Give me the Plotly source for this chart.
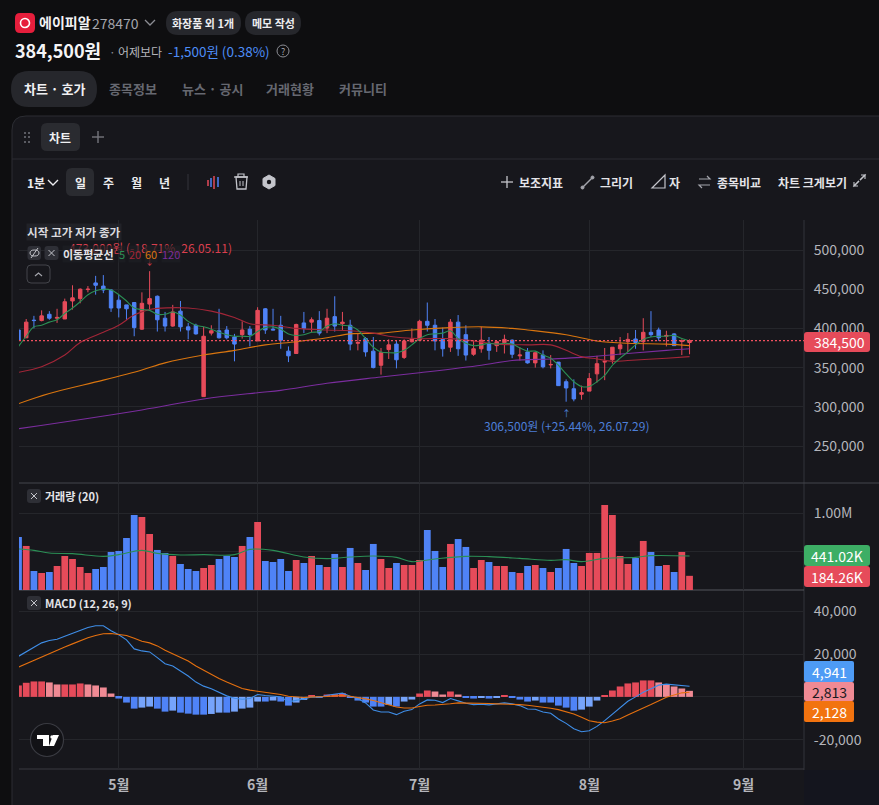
import plotly.graph_objects as go

W = 879
H = 805
FONT = "Noto Sans CJK KR"
RED = "#E64B5A"
BLUE = "#4F83F7"

# prices are read in thousand won
open_k = [398,388,410.5,410,418,413,412,435,438,449.5,
          458,454,449,436,430,433,399,431,441,413,
          403,422,402,404,313,394,397,398,389,392,
          399,384,425,399,404,371,368,407,408,410,
          400.5,415,406,404,381,387,371,353,373,380,
          363,383,385,409,404,386,376,408,392,367,
          374,381,378,382,385,365,370,356,366,353.5,
          357,332,323,316,320,342,357,360,374,383,
          386.5,383,395,398,390,393,383.5,382]
close_k = [385,408,410,416,413,414,434,439,450,450,
           455,449,426,426,425,401,432,438,411,403,
           421,402,398,393,390,397,388,388,380,398,
           392,423,398,398,385,365,405,400,411,394,
           413,403,408,380,382,370,350,369,379,360,
           384,386.5,409,404,384,374,408,374,366,374,
           385,372,383,386,367,366,356,369,351,354,
           327,324,310,318,336,355,358,376,379,386,
           382,395,392,388,391,378,384,384.5]
high_k = [398,412,416,423,422,425,438,455,451,454,
          467,468,450,443,430,433,446,473,442,421,
          430,435,407,406,402,404,425,403,393,409,
          403,427,426,425,416,377,406,421,414,422,
          425,441,421,411,394,389,389,375,386,385,
          386,400,411,433,412,401,412,417,404,385,
          402,389,384,392,386,376,375,369,372,366,
          357,335,335,327,343,365,375,376,389,394,
          398,413,422,401,397,394,386,386]
low_k = [385,388,400,409,411,407,412,424,432,446,
         443,445,421,414,411,390,398,423,396,396,
         402,396,386,392,313,391,387,386,358,387,
         377,384,393,398,374,357,368,394,395,391,
         394,396,398,372,372,364,349,341,361,349,
         361,382,385,396,372,364,370,365,359,365,
         369,360,370,368,362,359,355,350,349,349,
         327,306.5,307,309,320,331,334,355,366,370,
         374,372,389,384,377,378,366,367]

ma5_k = [377,390,402,404,408,411,419,426,434,443,
         448,450,449,443,435,426,424,423,418,418,
         421,417,409,404,402,399,395,392,390,390,
         390,396,401,402,399,393,391,392,395,396,
         403,406,404,403,398,387,376,370,369,369,
         372,379,387,392,393,394,397,387,381,378,
         379,381,380,381,380,375,371,371,366,362,
         353,342,332,326,326,332,340,353,362,370,
         379,386,389,390,390,391,387,384]
ma20_x = [0,3,6,8,11,13,15,17,18,22,25,28,30,33,36,40,43,46,48,52,56,59,62,66,69,71,73,75,77,79,84,87]
ma20_k = [344,351,366,382,395,404,417,424,425.5,426,422,414,406,404,400,398,397,394,390,387,387,384,380,379,379,372,364,361,358,359,362,364]
ma60_x = [0,4,11,16,19,24,28,32,36,40,43,47,51,56,60,64,66,71,75,79,84,87]
ma60_k = [304,317,334,347,356,366,372,379,383,388,393,394,398,401,402,400,398,392,384,381,380,378]
ma120_x = [0,16,24,31,34,40,47,52,60,64,69,73,79,84,87]
ma120_k = [272,296,310,318,321,330,338,343.5,353,359,361,363,368,372,374]

volume_k = [688,572,247,221,234,312,442,403,299,221,
            273,299,494,507,675,974,948,727,520,481,
            442,338,273,247,286,325,403,442,429,572,
            688,883,377,364,403,247,390,351,442,325,
            299,468,299,546,351,260,598,403,286,351,
            325,325,390,779,507,299,598,662,559,286,
            390,364,312,312,234,221,312,325,286,234,
            286,533,351,312,481,481,1104,974,442,338,
            416,637,494,312,325,234,494,184]
vol_ma_x = [0,2,4,7,11,13,16,18,21,24,28,30,33,37,40,43,46,49,51,54,58,61,65,69,71,73,76,80,82,87]
vol_ma_k = [533,515,480,472,437,459,515,476,455,459,459,528,515,429,407,429,442,424,368,403,437,433,411,385,394,368,411,424,446,441]

macd_hist = [5321,6573,7199,7199,6730,5790,5790,5790,6260,5790,
             5321,4382,1565,-782,-2660,-5478,-5008,-4539,-5478,-6886,
             -6417,-7356,-7825,-8295,-8295,-7982,-7356,-7356,-6886,-5478,
             -5008,-2191,-2191,-1722,-2191,-4069,-2660,-1409,626,-470,
             1096,1252,1722,-470,-1722,-2660,-4539,-4539,-3756,-4539,
             -2191,-1252,1565,2974,2504,1096,2504,1096,-313,-782,
             -313,-782,-313,626,-313,-1252,-2191,-1722,-2660,-2660,
             -4069,-5008,-6417,-5947,-4539,-1722,626,2974,4851,6260,
             6730,7669,7669,6730,5790,4851,3912,2813]
macd_line = [18937,21128,23319,25197,26292,26918,28327,29579,31144,32396,
             33178,33178,30831,28953,26605,22380,21441,20971,18311,15494,
             14398,12051,9703,6886,5008,3756,2191,470,-626,-1096,
             -783,1096,626,313,0,-2348,-1722,-939,0,-313,
             783,1096,1722,313,-783,-2817,-6104,-7043,-7043,-8295,
             -6730,-5947,-3287,-1409,-1565,-2660,-782,-1878,-2974,-3600,
             -3443,-3756,-3130,-2817,-3287,-4069,-5634,-5791,-7043,-7669,
             -10329,-12364,-14868,-16276,-15807,-13772,-11112,-7982,-5008,-2035,
             0,2191,3756,5478,5947,5634,5321,4941]
macd_signal = [13929,15494,17059,18780,20502,22067,23319,24727,26292,27544,
               28640,29422,29579,29266,28640,27388,25979,25197,23788,21754,
               20189,18311,16746,14398,12364,10486,8608,6886,5321,3913,
               3130,2661,2191,1722,1096,313,0,-313,0,0,
               157,470,626,313,-157,-939,-1722,-2661,-3600,-4695,
               -5165,-5165,-4500,-3913,-3800,-3600,-3200,-2817,-2817,-2817,
               -3000,-3130,-3287,-3287,-3287,-3600,-3913,-4300,-4695,-5300,
               -5947,-6900,-7982,-9500,-11112,-11800,-12051,-11300,-10173,-8500,
               -6730,-5200,-3600,-1900,-157,900,1878,2128]

price_ticks = [250000, 300000, 350000, 400000, 450000, 500000]
month_ticks = [13, 31, 52, 74, 94]
month_labels = ["5월", "6월", "7월", "8월", "9월"]

days = list(range(len(close_k)))

bar_colors = [RED if c >= o else BLUE for o, c in zip(open_k, close_k)]
hist_colors = []
for i, v in enumerate(macd_hist):
    prev = macd_hist[i - 1] if i else v
    if v >= 0:
        hist_colors.append("#E64B5A" if v >= prev else "#F08A94")
    else:
        hist_colors.append("#4F83F7" if v <= prev else "#76A4FB")


def px(x):
    return x / W


def py(y):
    return 1 - y / H


shapes = []
annots = []


def round_box(x0, y0, x1, y1, r, fill, line=None, layer="above"):
    a, b, c, d = px(x0), py(y0), px(x1), py(y1)
    rx, ry = r / W, r / H
    path = (f"M {a+rx} {b} L {c-rx} {b} Q {c} {b} {c} {b-ry} L {c} {d+ry} Q {c} {d} {c-rx} {d} "
            f"L {a+rx} {d} Q {a} {d} {a} {d+ry} L {a} {b-ry} Q {a} {b} {a+rx} {b} Z")
    shapes.append(dict(type="path", xref="paper", yref="paper", path=path, fillcolor=fill,
                       line=dict(color=line or "rgba(0,0,0,0)", width=1), layer=layer))


def seg(x0, y0, x1, y1, color, width=1, layer="above"):
    shapes.append(dict(type="line", xref="paper", yref="paper", x0=px(x0), y0=py(y0), x1=px(x1), y1=py(y1),
                       line=dict(color=color, width=width), layer=layer))


def poly(points, color, width=1.3, fill=None, close=False):
    d = "M " + " L ".join(f"{px(x)} {py(y)}" for x, y in points)
    if close:
        d += " Z"
    shapes.append(dict(type="path", xref="paper", yref="paper", path=d, fillcolor=fill or "rgba(0,0,0,0)",
                       line=dict(color=color, width=width)))


def ring(cx, cy, r, color, width=1, fill="rgba(0,0,0,0)"):
    shapes.append(dict(type="circle", xref="paper", yref="paper", x0=px(cx - r), x1=px(cx + r),
                       y0=py(cy + r), y1=py(cy - r), fillcolor=fill, line=dict(color=color, width=width)))


def label(x, y, text, size=12, color="#FFFFFF", bold=False, anchor="left", bg=None, family=FONT):
    annots.append(dict(xref="paper", yref="paper", x=px(x), y=py(y), text=text, showarrow=False,
                       xanchor=anchor, yanchor="middle", borderpad=0, bgcolor=bg,
                       font=dict(family=family, size=size, color=color, weight=700 if bold else 400)))


def close_btn(x, y):
    round_box(x - 7, y - 7, x + 7, y + 7, 3, "#2E2F36")
    seg(x - 3, y - 3, x + 3, y + 3, "#C4C5CB", 1)
    seg(x - 3, y + 3, x + 3, y - 3, "#C4C5CB", 1)


# page and panel
round_box(12, 116, 900, 840, 14, "#17171C", "#2C2D33", layer="below")
shapes.append(dict(type="rect", xref="paper", yref="paper", x0=px(804), x1=1, y0=0, y1=py(770),
                   fillcolor="#14151E", line=dict(width=0), layer="below"))
seg(12, 159, 879, 159, "#2C2D33", 1, "below")
seg(804, 220, 804, 770, "#33343A", 1, "below")
seg(19, 483, 879, 483, "#45464C", 1, "below")
seg(19, 590, 804, 590, "#55565C", 1, "below")
seg(19, 769, 804, 769, "#3A3B41", 1, "below")

# header
round_box(15, 13, 35, 33, 5, "#E61E3C")
ring(25, 23, 4.5, "#FFFFFF", 1.6)
label(38, 22, "에이피알", 14, "#F2F2F4", True)
label(91, 23, "278470", 14, "#A4A5AC")
poly([(145, 20), (150, 25), (155, 20)], "#8C8D94")
round_box(166, 11, 241, 35, 12, "#26272C")
label(203, 23, "화장품 외 1개", 11, "#ECECEF", True, "center")
round_box(245, 11, 301, 35, 12, "#26272C")
label(273, 23, "메모 작성", 11, "#ECECEF", True, "center")
label(14, 50, "384,500원", 18, "#F4F4F6", True)
label(108, 51, "·", 12, "#8C8D94")
label(117, 51, "어제보다", 12, "#B4B5BB")
label(167, 51, "-1,500원 (0.38%)", 13.5, "#4D8DF7")
ring(283, 51, 6, "#8C8D94", 1)
label(283, 51, "?", 9, "#A4A5AC", False, "center")

# tabs
round_box(11, 71, 97, 107, 18, "#26272C")
label(54, 89, "차트 · 호가", 13, "#F0F0F2", True, "center")
label(133, 89, "종목정보", 13, "#666870", True, "center")
label(212, 89, "뉴스 · 공시", 13, "#666870", True, "center")
label(290, 89, "거래현황", 13, "#666870", True, "center")
label(363, 89, "커뮤니티", 13, "#666870", True, "center")

# chart tab row
for dx in (24, 28):
    for dy in (133, 137, 142):
        shapes.append(dict(type="rect", xref="paper", yref="paper", x0=px(dx), x1=px(dx + 2),
                           y0=py(dy + 1), y1=py(dy - 1), fillcolor="#5A5B62", line=dict(width=0)))
round_box(41, 123, 80, 151, 6, "#2A2B30")
label(60, 137, "차트", 12, "#F0F0F2", True, "center")
seg(92, 137, 104, 137, "#74757C", 1.4)
seg(98, 131, 98, 143, "#74757C", 1.4)

# toolbar
label(26, 182, "1분", 12, "#ECECEF", True)
poly([(48, 180), (53, 185), (58, 180)], "#ECECEF", 1.4)
round_box(66, 168, 94, 196, 6, "#2A2B30")
label(80, 182, "일", 12, "#F0F0F2", True, "center")
label(108, 182, "주", 12, "#ECECEF", True, "center")
label(136, 182, "월", 12, "#ECECEF", True, "center")
label(164, 182, "년", 12, "#ECECEF", True, "center")
seg(188, 174, 188, 190, "#34353B", 1)
seg(208, 180, 208, 186, RED, 1.5)
seg(211, 178, 211, 187, BLUE, 1.5)
seg(214, 176, 214, 189, RED, 1.5)
seg(218, 177, 218, 187, BLUE, 1.5)
poly([(236, 177), (237, 189), (246, 189), (247, 177)], "#C4C5CB", 1.3, close=True)
seg(234, 177, 248, 177, "#C4C5CB", 1.3)
poly([(238, 177), (238, 174), (244, 174), (244, 177)], "#C4C5CB", 1.2)
seg(240, 181, 240, 186, "#C4C5CB", 1)
seg(243, 181, 243, 186, "#C4C5CB", 1)
# settings icon
poly([(269, 175), (275, 178.5), (275, 185.5), (269, 189), (263, 185.5), (263, 178.5)],
     "#C4C5CB", 1, "#C4C5CB", True)
ring(269, 182, 2.2, "#17171C", 0, "#17171C")

seg(501, 182, 513, 182, "#C4C5CB", 1.3)
seg(507, 176, 507, 188, "#C4C5CB", 1.3)
label(518, 182, "보조지표", 12, "#E4E4E8", True)
seg(582, 188, 593, 177, "#A4A5AC", 1.4)
ring(582.5, 187.5, 1.5, "#A4A5AC", 1, "#A4A5AC")
ring(592.5, 177.5, 1.5, "#A4A5AC", 1, "#A4A5AC")
label(599, 182, "그리기", 12, "#E4E4E8", True)
poly([(652, 188), (665, 188), (665, 175)], "#C4C5CB", 1.2, close=True)
label(668, 182, "자", 12, "#E4E4E8", True)
poly([(699, 179), (710, 179), (707, 176)], "#A4A5AC", 1.2)
poly([(710, 185), (699, 185), (702, 188)], "#A4A5AC", 1.2)
label(716, 182, "종목비교", 12, "#E4E4E8", True)
label(777, 182, "차트 크게보기", 12, "#E4E4E8", True)
poly([(860, 180), (865, 175), (861, 175)], "#C4C5CB", 1.1)
poly([(860, 180), (865, 175), (865, 179)], "#C4C5CB", 1.1)
poly([(859, 181), (854, 186), (858, 186)], "#C4C5CB", 1.1)
poly([(859, 181), (854, 186), (854, 182)], "#C4C5CB", 1.1)

# legend rows over the price pane
label(68, 248, "473,000원 (-18.71%, 26.05.11)", 12, "#D93F4E")
label(149, 261, "↓", 9, "#D93F4E", False, "center")
label(26, 232, "시작 고가 저가 종가", 11.6, "#DADADF", True, bg="rgba(38,39,44,0.75)")
# hide-row button with a crossed eye
round_box(27.5, 246, 41, 260, 3, "#2E2F36")
shapes.append(dict(type="circle", xref="paper", yref="paper", x0=px(30), x1=px(39), y0=py(256), y1=py(250),
                   line=dict(color="#C4C5CB", width=1)))
seg(31, 258, 38, 248, "#C4C5CB", 1)
close_btn(51.5, 253)
row_bg = "rgba(30,31,36,0.7)"
label(62, 254, "이동평균선", 11, "#E4E4E8", True, bg=row_bg)
label(118, 254, "5", 11, "#2B8F55", bg=row_bg)
label(128, 254, "20", 11, "#A32638", bg=row_bg)
label(144, 254, "60", 11, "#D9750F", bg=row_bg)
label(161, 254, "120", 11, "#7B2D9E", bg=row_bg)
round_box(27, 265, 50, 283, 4, "#17171C", "#44454B")
poly([(35, 276), (38.5, 273), (42, 276)], "#A4A5AC", 1.2)
label(483, 425, "306,500원 (+25.44%, 26.07.29)", 12, "#4D7FD8")
label(566, 414, "↑", 9, "#4D7FD8", False, "center")

close_btn(34, 496)
label(44, 496, "거래량 (20)", 11, "#E4E4E8", True)
close_btn(34, 603)
label(44, 603, "MACD (12, 26, 9)", 11, "#E4E4E8", True)

# TradingView badge
ring(47, 740, 16.5, "#3A3B42", 1.2, "#121216")
poly([(37, 735), (49, 735), (49, 746), (43, 746), (43, 739), (37, 739)], "#FFFFFF", 0, "#FFFFFF", True)
ring(52, 737, 1.7, "#FFFFFF", 0, "#FFFFFF")
poly([(53, 735), (59, 735), (54, 746), (49, 746)], "#FFFFFF", 0, "#FFFFFF", True)

# last value tags
round_box(804, 332, 870, 352, 3, "#E64B5A")
label(839, 342, "384,500", 14, "#FFFFFF", False, "center")
round_box(804, 545, 870, 566, 3, "#3DAE65")
label(837, 555.5, "441.02K", 14, "#FFFFFF", False, "center")
round_box(804, 566, 870, 587, 3, "#E64B5A")
label(837, 576.5, "184.26K", 14, "#FFFFFF", False, "center")
round_box(804, 661, 854, 682, 2, "#4E9BF5")
label(829, 671.5, "4,941", 14, "#FFFFFF", False, "center")
round_box(804, 682, 854, 701, 2, "#F08A94")
label(829, 691.5, "2,813", 14, "#1A1A1E", False, "center")
round_box(804, 701, 854, 722, 2, "#F2730F")
label(829, 711.5, "2,128", 14, "#FFFFFF", False, "center")

# current price line
shapes.append(dict(type="line", xref="paper", yref="y", x0=px(19), x1=px(804), y0=384500, y1=384500,
                   line=dict(color="#F0505F", width=1.2, dash="2px,2px")))

fig = go.Figure()
fig.add_trace(go.Candlestick(
    x=days,
    open=[v * 1000 for v in open_k],
    high=[v * 1000 for v in high_k],
    low=[v * 1000 for v in low_k],
    close=[v * 1000 for v in close_k],
    increasing=dict(line=dict(color=RED, width=1), fillcolor=RED),
    decreasing=dict(line=dict(color=BLUE, width=1), fillcolor=BLUE),
    whiskerwidth=0,
    xaxis="x", yaxis="y",
))
fig.add_trace(go.Scatter(x=ma120_x, y=[v * 1000 for v in ma120_k], mode="lines", yaxis="y",
                         line=dict(color="#7B2D9E", width=1.1, shape="spline")))
fig.add_trace(go.Scatter(x=ma60_x, y=[v * 1000 for v in ma60_k], mode="lines", yaxis="y",
                         line=dict(color="#D9750F", width=1.1, shape="spline")))
fig.add_trace(go.Scatter(x=ma20_x, y=[v * 1000 for v in ma20_k], mode="lines", yaxis="y",
                         line=dict(color="#A32638", width=1.1, shape="spline")))
fig.add_trace(go.Scatter(x=days, y=[v * 1000 for v in ma5_k], mode="lines", yaxis="y",
                         line=dict(color="#2B8F55", width=1.1, shape="spline")))

fig.add_trace(go.Bar(x=days, y=[v * 1000 for v in volume_k], marker=dict(color=bar_colors, line=dict(width=0)),
                     width=0.88, yaxis="y2"))
fig.add_trace(go.Scatter(x=vol_ma_x, y=[v * 1000 for v in vol_ma_k], mode="lines", yaxis="y2",
                         line=dict(color="#2B8F55", width=1.1, shape="spline")))

fig.add_trace(go.Bar(x=days, y=macd_hist, marker=dict(color=hist_colors, line=dict(width=0)),
                     width=0.88, yaxis="y3"))
fig.add_trace(go.Scatter(x=days, y=macd_line, mode="lines", yaxis="y3",
                         line=dict(color="#3F8EE8", width=1.1)))
fig.add_trace(go.Scatter(x=days, y=macd_signal, mode="lines", yaxis="y3",
                         line=dict(color="#E5700F", width=1.1)))

tick_font = dict(family=FONT, size=14, color="#B4B5BB")
grid = "#25262B"
fig.update_layout(
    width=W, height=H,
    margin=dict(l=0, r=0, t=0, b=0),
    paper_bgcolor="#0E0E10",
    plot_bgcolor="rgba(0,0,0,0)",
    showlegend=False,
    boxgap=0.36,
    barmode="overlay",
    hovermode=False,
    shapes=shapes,
    annotations=annots,
    xaxis=dict(domain=[px(19), px(804)], range=[0.065, 101.84], anchor="y3",
               rangeslider=dict(visible=False),
               tickmode="array", tickvals=month_ticks, ticktext=month_labels,
               tickfont=dict(family=FONT, size=14, color="#B4B5BB", weight=700),
               ticks="outside", ticklen=3, tickcolor="rgba(0,0,0,0)",
               showgrid=True, gridcolor=grid, gridwidth=1, zeroline=False, showline=False),
    yaxis=dict(domain=[py(483), py(220)], range=[202800, 538265], side="right", anchor="x",
               tickmode="array", tickvals=price_ticks, ticktext=[f"{v:,}" for v in price_ticks],
               tickfont=tick_font, ticks="outside", ticklen=6, tickcolor="rgba(0,0,0,0)",
               showgrid=True, gridcolor=grid, zeroline=False, showline=False),
    yaxis2=dict(domain=[py(590), py(484)], range=[0, 1376600], side="right", anchor="x",
                tickmode="array", tickvals=[500000, 1000000], ticktext=["", "1.00M"],
                tickfont=tick_font, ticks="outside", ticklen=6, tickcolor="rgba(0,0,0,0)",
                showgrid=True, gridcolor=grid, zeroline=False, showline=False),
    yaxis3=dict(domain=[py(769), py(591)], range=[-33660, 49400], side="right", anchor="x",
                tickmode="array", tickvals=[-20000, 0, 20000, 40000],
                ticktext=["-20,000", "", "20,000", "40,000"],
                tickfont=tick_font, ticks="outside", ticklen=6, tickcolor="rgba(0,0,0,0)",
                showgrid=True, gridcolor=grid, zeroline=False, showline=False),
)

fig.write_html("out.html", config=dict(displayModeBar=False),
               post_script="document.body.style.margin='0';document.body.style.overflow='hidden';")
